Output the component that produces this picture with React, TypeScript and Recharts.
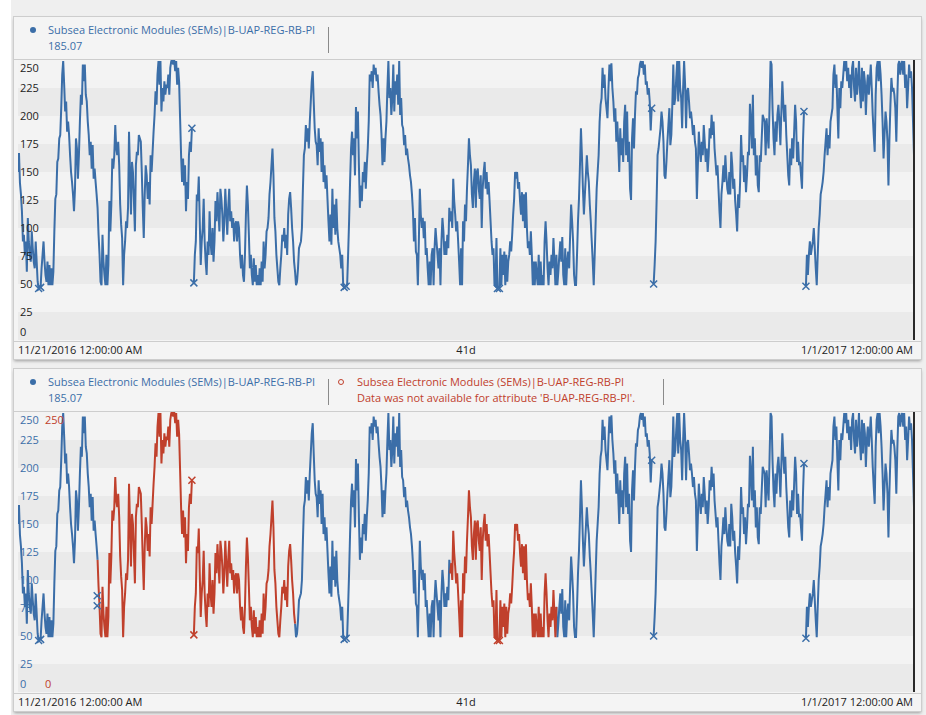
import React from "react"
import { ComposedChart, Line, Scatter, XAxis, YAxis, ReferenceArea, ReferenceLine } from "recharts"

const BLUE = "#3b6ea8"
const RED = "#c0402c"

const seriesName = "Subsea Electronic Modules (SEMs)|B-UAP-REG-RB-PI"
const currentValue = "185.07"
const missingNote = "Data was not available for attribute 'B-UAP-REG-RB-PI'."
const startLabel = "11/21/2016 12:00:00 AM"
const spanLabel = "41d"
const endLabel = "1/1/2017 12:00:00 AM"

const TOTAL_HOURS = 41 * 24
const yTicks = [0, 25, 50, 75, 100, 125, 150, 175, 200, 225, 250]
const darkBands = [[0, 25], [50, 75], [100, 125], [150, 175], [200, 225]]

// readings, one array per ~6.8 days, null = gap in the data
const week1 = [150,167,140,130,115,88,94,76,88,61,109,88,76,70,97,82,70,64,88,70,52,46,null,47,64,76,88,70,58,52,70,49,67,49,64,49,61,97,126,130,159,162,180,183,207,237,249,228,204,213,186,195,183,165,150,141,130,115,135,180,171,144,165,195,219,210,246,231,246,219,213,195,183,165,177,153,174,144,153,141,130,118,94,76,52,49,94,70,58,49,76,49,67,124,97,121,162,153,165,192,171,165,177,156,121,103,91,49,76,88,106,100,118,186,150,112,159,150,124,97,156,168,165,183,180,177,150,118,91,130,156,147,126,141,121,165,150,168,186,201,222,210,237,249,228,249,204,225,213,231,219,228]
const week2 = [225,237,219,243,249,250,246,250,240,249,228,243,230,198,165,141,162,138,156,115,141,126,165,177,168,189,null,51,76,88,130,124,146,106,67,88,100,126,88,70,58,88,76,115,88,76,100,70,88,124,106,132,115,97,135,126,112,88,106,135,115,94,118,135,106,115,100,109,88,103,106,88,106,100,76,64,76,58,52,76,112,138,121,94,64,76,58,49,73,52,67,49,58,49,64,49,70,52,88,64,76,97,100,109,130,141,156,171,147,109,97,76,64,52,49,64,76,94,88,100,82,94,76,112,126,132,118,100,88,70,61,49,52,64,82,85,88,100,135,165,171,192,177,189,171,195,213,231,240,213,189,177]
const week3 = [174,156,189,168,180,150,177,141,156,135,147,126,106,88,112,85,135,100,121,94,126,100,88,82,76,64,76,49,47,null,48,49,76,106,141,171,186,165,180,147,208,180,204,156,118,138,124,150,141,159,135,156,171,195,237,231,240,225,246,237,243,231,237,222,210,201,183,156,180,159,180,195,225,249,216,225,201,216,246,204,231,219,237,210,249,201,216,192,189,174,183,165,171,162,156,147,141,130,115,88,109,79,76,49,88,135,112,100,109,91,106,76,82,64,49,70,49,76,82,49,82,100,88,76,64,82,49,88,109,97,76,88,76,94,82,118,106,115,100,144,124,112,97,106,88,70,49,82,49,106,88,121]
const week4 = [106,135,156,180,165,156,130,118,141,153,118,150,153,135,126,147,100,135,150,159,135,150,130,141,124,106,88,76,82,49,48,91,46,null,46,82,49,76,58,79,49,76,52,70,76,88,79,94,112,126,150,144,150,135,141,124,112,132,106,130,100,132,100,82,88,76,97,76,49,70,49,70,58,49,76,49,70,49,58,49,88,106,88,64,49,70,58,76,64,91,70,49,76,49,61,76,88,70,92,58,49,82,49,70,79,64,94,121,106,88,58,49,49,76,106,126,156,189,165,135,112,130,147,165,150,141,121,106,88,70,49,76,106,135,150,165,195,210,216,243,225,237,216,207,198,225,246,231,247,225,213,195]
const week5 = [207,177,195,174,150,189,165,180,159,195,210,165,204,159,177,135,125,180,198,171,201,222,219,234,237,246,249,243,249,237,246,228,231,219,225,213,187,207,null,50,67,88,124,165,171,180,189,204,195,177,147,144,159,177,192,207,174,183,210,246,210,216,234,249,213,249,225,216,189,225,249,228,189,222,225,213,198,204,195,183,192,177,171,126,156,186,171,159,177,165,192,177,159,171,150,165,189,180,201,183,195,171,159,147,156,135,115,100,130,141,156,141,165,147,135,130,150,130,168,156,135,144,124,112,97,130,118,141,183,159,165,141,156,132,147,168,165,211,195,171,219,165,180,147,165,138,132,165,159,180,201,198]
const week6 = [195,165,198,183,171,210,249,246,207,180,165,195,177,201,210,195,174,204,231,210,195,210,183,165,147,138,171,156,180,162,186,210,195,159,177,156,159,147,135,177,204,null,48,76,58,76,88,76,82,88,100,82,64,49,76,100,112,130,135,141,150,165,177,189,165,183,171,195,201,207,237,246,225,237,207,180,225,207,231,225,237,249,240,249,231,243,225,237,216,243,249,225,213,243,219,231,249,222,207,243,213,240,231,201,225,237,219,231,246,225,201,183,168,219,243,249,231,249,237,219,195,162,183,204,195,177,138,180,210,234,222,225,219,207,177,216,246,249,237,246,249,237,249,225,237,207,225,246,234,240,225,195,165]

// hours where the second trend shows the same attribute in red
const redRanges = [[87, 305], [474, 592]]
const handoffMarks = [{ t: 87, v: 86 }, { t: 87, v: 77 }]

type Row = { t: number; v: number | null; mark: boolean; blue: number | null; red: number | null }

const weeks = [week1, week2, week3, week4, week5, week6]
const span = TOTAL_HOURS / weeks.length
const rows: Row[] = []
weeks.forEach((vals, k) => {
  const last = k === weeks.length - 1
  vals.forEach((v, i) => {
    const t = k * span + (i * span) / (last ? vals.length - 1 : vals.length)
    rows.push({ t, v, mark: false, blue: null, red: null })
  })
})
const inRed = (t: number) => redRanges.some(([a, b]) => t >= a && t <= b)
rows.forEach((r, i) => {
  const prev = rows[i - 1]
  const next = rows[i + 1]
  r.mark = r.v != null && ((prev && prev.v == null) || (next && next.v == null))
  const red = inRed(r.t)
  r.red = red ? r.v : null
  const edge = red && (!prev || !inRed(prev.t) || !next || !inRed(next.t))
  r.blue = !red || edge ? r.v : null
})

const crossPath = (cx: number, cy: number) =>
  `M${cx - 3.5},${cy - 3.5}L${cx + 3.5},${cy + 3.5}M${cx - 3.5},${cy + 3.5}L${cx + 3.5},${cy - 3.5}`

const markDot = (color: string) => (props: any) => {
  const { cx, cy, payload, value, index } = props
  if (!payload || !payload.mark || value == null || cy == null || isNaN(cy)) return <g key={index} />
  return <path key={index} d={crossPath(cx, cy)} stroke={color} strokeWidth={1.5} fill="none" />
}

const renderTick = (split: boolean) => (props: any) => {
  const { y, payload } = props
  const v = payload.value
  const dy = v === 250 ? 8 : v === 0 ? -8 : 0
  return (
    <g>
      <text x={2} y={y + dy} dy="0.35em" fontSize={11} fill={split ? BLUE : "#222"} fontFamily='"Open Sans", sans-serif'>
        {v}
      </text>
      {split && (v === 0 || v === 250) && (
        <text x={27} y={y + dy} dy="0.35em" fontSize={11} fill={RED} fontFamily='"Open Sans", sans-serif'>
          {v}
        </text>
      )}
    </g>
  )
}

function Plot({ split }: { split: boolean }) {
  return (
    <ComposedChart width={900} height={280} data={rows} margin={{ top: 0, right: 4, bottom: 0, left: 0 }}>
      <XAxis dataKey="t" type="number" domain={[0, TOTAL_HOURS]} hide />
      <YAxis domain={[0, 250]} ticks={yTicks} interval={0} mirror axisLine={false} tickLine={false} tick={renderTick(split)} />
      {darkBands.map(([a, b]) => (
        <ReferenceArea key={a} y1={a} y2={b} fill="#eaeaea" fillOpacity={1} stroke="none" />
      ))}
      {split ? (
        <>
          <Line dataKey="blue" type="linear" stroke={BLUE} strokeWidth={2} dot={markDot(BLUE)} activeDot={false} isAnimationActive={false} />
          <Line dataKey="red" type="linear" stroke={RED} strokeWidth={2} dot={markDot(RED)} activeDot={false} isAnimationActive={false} />
          <Scatter data={handoffMarks} dataKey="v" isAnimationActive={false}
            shape={(p: any) => <path d={crossPath(p.cx, p.cy)} stroke={BLUE} strokeWidth={1.5} fill="none" />} />
        </>
      ) : (
        <Line dataKey="v" type="linear" stroke={BLUE} strokeWidth={2} dot={markDot(BLUE)} activeDot={false} isAnimationActive={false} />
      )}
      <ReferenceLine x={TOTAL_HOURS} stroke="#2a2a2a" strokeWidth={2} />
    </ComposedChart>
  )
}

const abs = (left: number, top: number, extra: React.CSSProperties = {}): React.CSSProperties => ({
  position: "absolute", left, top, ...extra,
})

function Panel({ top, split }: { top: number; split: boolean }) {
  return (
    <div style={abs(14, top, { width: 907, height: 342, background: "#f4f4f4", boxShadow: "0 0 0 1px #cdcdcd, 0 2px 3px rgba(0,0,0,0.35)" })}>
      <div style={abs(16, 10, { width: 6, height: 6, borderRadius: 3, background: BLUE })} />
      <div style={abs(34, 5, { color: BLUE, fontSize: 11, lineHeight: "16px", whiteSpace: "nowrap" })}>{seriesName}</div>
      <div style={abs(34, 21, { color: BLUE, fontSize: 11, lineHeight: "16px" })}>{currentValue}</div>
      <div style={abs(314, 10, { width: 1, height: 26, background: "#8a8a8a" })} />
      {split && (
        <>
          <div style={abs(324, 10, { width: 4, height: 4, borderRadius: 3, border: `1px solid ${RED}` })} />
          <div style={abs(343, 5, { color: RED, fontSize: 11, lineHeight: "16px", whiteSpace: "nowrap" })}>{seriesName}</div>
          <div style={abs(343, 21, { color: RED, fontSize: 11, lineHeight: "16px", whiteSpace: "nowrap" })}>{missingNote}</div>
          <div style={abs(649, 10, { width: 1, height: 26, background: "#8a8a8a" })} />
        </>
      )}
      <div style={abs(0, 42, { width: 907, height: 1, background: "#cdcdcd" })} />
      <div style={abs(4, 43, { width: 896, height: 280, background: "#f3f3f3" })}>
        <Plot split={split} />
      </div>
      <div style={abs(0, 324, { width: 907, height: 1, background: "#cdcdcd" })} />
      <div style={abs(4, 325, { color: "#222", fontSize: 11, lineHeight: "16px" })}>{startLabel}</div>
      <div style={abs(432, 325, { width: 40, textAlign: "center", color: "#222", fontSize: 11, lineHeight: "16px" })}>{spanLabel}</div>
      <div style={abs(500, 325, { width: 399, textAlign: "right", color: "#222", fontSize: 11, lineHeight: "16px" })}>{endLabel}</div>
    </div>
  )
}

export default function App() {
  return (
    <div style={abs(0, 0, { width: 926, height: 715, background: "#fff", fontFamily: '"Open Sans", sans-serif', overflow: "hidden" })}>
      <div style={abs(11, 0, { width: 915, height: 715, background: "#efefef" })} />
      <Panel top={17} split={false} />
      <Panel top={369} split={true} />
    </div>
  )
}
